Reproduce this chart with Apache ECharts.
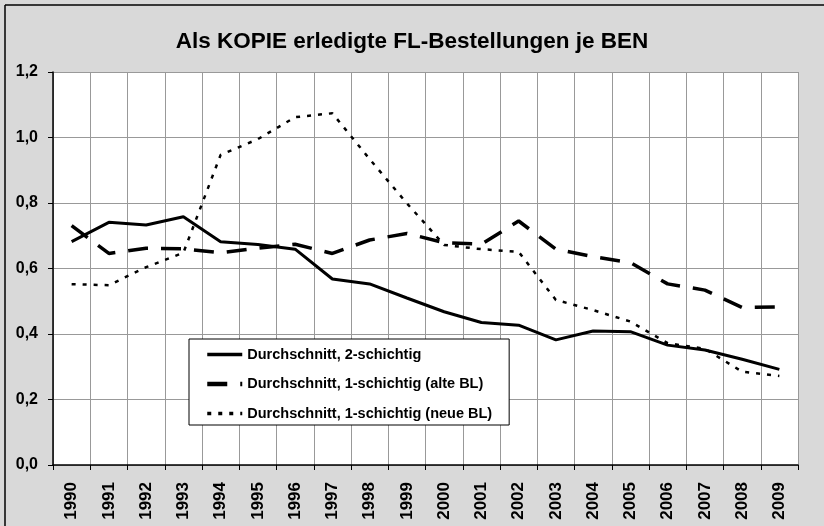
<!DOCTYPE html>
<html>
<head>
<meta charset="utf-8">
<script src="https://cdn.jsdelivr.net/npm/echarts@6/dist/echarts.min.js"></script>
<style>
html, body { margin: 0; padding: 0; background: #d9d9d9; }
#chart { width: 824px; height: 526px; }
</style>
</head>
<body>
<div id="chart"></div>
<script>
var years = ['1990', '1991', '1992', '1993', '1994', '1995', '1996', '1997', '1998', '1999',
             '2000', '2001', '2002', '2003', '2004', '2005', '2006', '2007', '2008', '2009']

var zweiSchichtig = [0.682, 0.741, 0.733, 0.758, 0.682, 0.673, 0.659, 0.568, 0.553, 0.510,
                     0.468, 0.435, 0.427, 0.382, 0.409, 0.407, 0.366, 0.351, 0.323, 0.292]
var einSchichtigAlt = [0.731, 0.646, 0.662, 0.660, 0.648, 0.662, 0.674, 0.646, 0.687, 0.707,
                       0.679, 0.674, 0.745, 0.659, 0.636, 0.618, 0.553, 0.534, 0.481, 0.483]
var einSchichtigNeu = [0.552, 0.549, 0.604, 0.648, 0.947, 0.995, 1.062, 1.074, 0.934, 0.799,
                       0.672, 0.659, 0.651, 0.504, 0.473, 0.438, 0.372, 0.355, 0.285, 0.272]

var seriesNames = ['Durchschnitt, 2-schichtig',
                   'Durchschnitt, 1-schichtig (alte BL)',
                   'Durchschnitt, 1-schichtig (neue BL)']

var font = 'Liberation Sans, Arial, sans-serif'

var chart = echarts.init(document.getElementById('chart'))

chart.setOption({
    backgroundColor: '#d9d9d9',
    animation: false,
    title: {
        text: 'Als KOPIE erledigte FL-Bestellungen je BEN',
        left: 'center',
        top: 25,
        textStyle: {fontFamily: font, fontSize: 22.5, fontWeight: 'bold', color: '#000'}
    },
    graphic: [
        {type: 'line', shape: {x1: 5, y1: 5, x2: 5, y2: 526}, style: {stroke: '#000', lineWidth: 1.5}},
        {type: 'line', shape: {x1: 5, y1: 5, x2: 824, y2: 5}, style: {stroke: '#000', lineWidth: 1.5}}
    ],
    grid: {left: 53, right: 26, top: 72, bottom: 61, backgroundColor: '#fff', show: true, borderWidth: 0},
    legend: {
        orient: 'vertical',
        left: 189,
        top: 339,
        padding: [8, 17, 4, 16],
        itemWidth: 35,
        itemHeight: 14,
        itemGap: 14.5,
        backgroundColor: '#fff',
        borderColor: '#000',
        borderWidth: 1,
        itemStyle: {opacity: 0},
        textStyle: {fontFamily: font, fontSize: 14.5, fontWeight: 'bold', color: '#000', lineHeight: 14},
        data: [
            {name: seriesNames[0], lineStyle: {width: 3.5}},
            {name: seriesNames[1], lineStyle: {width: 4.5}},
            {name: seriesNames[2], lineStyle: {width: 3.5}}
        ]
    },
    xAxis: {
        type: 'category',
        data: years,
        boundaryGap: true,
        axisLine: {lineStyle: {color: '#000', width: 1.5}},
        axisTick: {show: true, length: 5, lineStyle: {color: '#000'}},
        splitLine: {show: true, lineStyle: {color: '#999', width: 1}},
        axisLabel: {rotate: 90, margin: 17, fontFamily: font, fontSize: 17, fontWeight: 'bold', color: '#000'}
    },
    yAxis: {
        type: 'value',
        min: 0,
        max: 1.2,
        interval: 0.2,
        axisLine: {show: true, lineStyle: {color: '#000', width: 1.5}},
        axisTick: {show: true, length: 5, lineStyle: {color: '#000'}},
        splitLine: {show: true, lineStyle: {color: '#999', width: 1}},
        axisLabel: {
            margin: 15,
            fontFamily: font, fontSize: 16, fontWeight: 'bold', color: '#000',
            formatter: function (v) { return v.toFixed(1).replace('.', ',') }
        }
    },
    series: [
        {
            name: seriesNames[0], type: 'line', data: zweiSchichtig,
            symbol: 'none', color: '#000',
            lineStyle: {color: '#000', width: 3}
        },
        {
            name: seriesNames[1], type: 'line', data: einSchichtigAlt,
            symbol: 'none', color: '#000',
            lineStyle: {color: '#000', width: 3.5, type: [20, 13]}
        },
        {
            name: seriesNames[2], type: 'line', data: einSchichtigNeu,
            symbol: 'none', color: '#000',
            lineStyle: {color: '#000', width: 2.5, type: [4, 7]}
        }
    ]
})
</script>
</body>
</html>
